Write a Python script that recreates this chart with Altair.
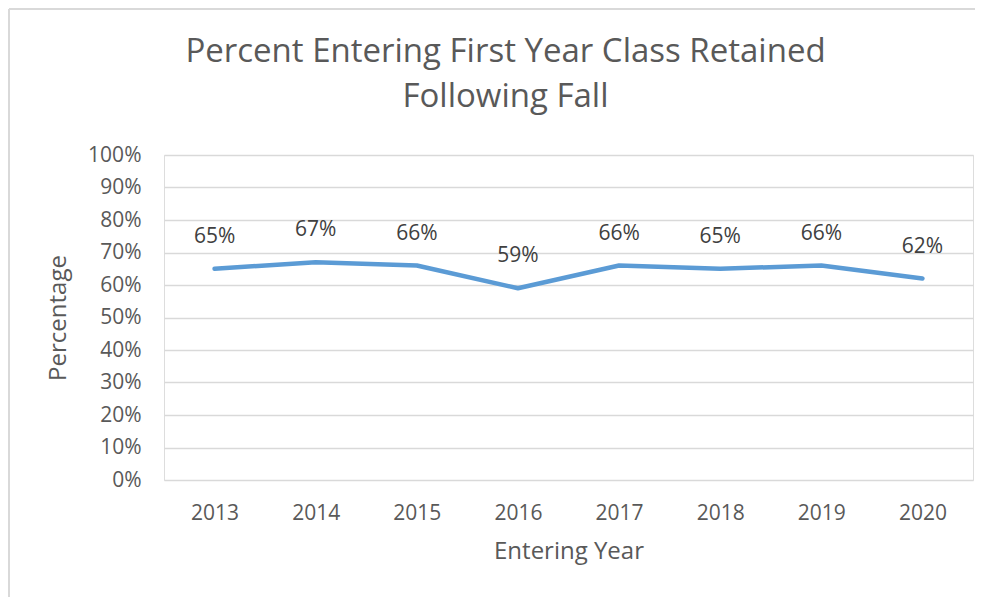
import altair as alt
import pandas as pd

years = ["2013", "2014", "2015", "2016", "2017", "2018", "2019", "2020"]
retained = [0.65, 0.67, 0.66, 0.59, 0.66, 0.65, 0.66, 0.62]
y_ticks = [0.0, 0.1, 0.2, 0.3, 0.4, 0.5, 0.6, 0.7, 0.8, 0.9, 1.0]
title_lines = ["Percent Entering First Year Class Retained", "Following Fall"]

df = pd.DataFrame({"year": years, "value": retained})

FONT = "Open Sans"
GRID = "#D9D9D9"
TXT = "#595959"

x_enc = alt.X(
    "year:O",
    sort=years,
    scale=alt.Scale(paddingInner=0, paddingOuter=0),
    axis=alt.Axis(
        title="Entering Year",
        labelAngle=0,
        labelFont=FONT,
        labelFontSize=21,
        labelColor=TXT,
        labelPadding=22,
        ticks=False,
        domain=False,
        grid=False,
        titleFont=FONT,
        titleFontSize=24,
        titleFontWeight="normal",
        titleColor=TXT,
        titlePadding=16,
    ),
)
y_enc = alt.Y(
    "value:Q",
    scale=alt.Scale(domain=[0, 1], nice=False),
    axis=alt.Axis(
        title="Percentage",
        values=y_ticks,
        format=".0%",
        labelOverlap=False,
        labelFont=FONT,
        labelFontSize=21,
        labelColor=TXT,
        labelPadding=23,
        ticks=False,
        domain=False,
        gridColor=GRID,
        gridWidth=1.5,
        titleFont=FONT,
        titleFontSize=24,
        titleFontWeight="normal",
        titleColor=TXT,
        titlePadding=17,
    ),
)

base = alt.Chart(df)
line = base.mark_line(color="#5B9BD5", strokeWidth=4.5, strokeCap="round", strokeJoin="round").encode(
    x=x_enc, y=y_enc
)
labels = base.mark_text(dy=-32, baseline="middle", font=FONT, fontSize=21, color="#404040").encode(
    x=x_enc, y=y_enc, text=alt.Text("value:Q", format=".0%")
)
frame = alt.Data(values=[{}])
border_top = alt.Chart(frame).mark_rule(stroke=GRID, strokeWidth=2).encode(
    x=alt.value(-155), x2=alt.value(820), y=alt.value(-146)
)
border_left = alt.Chart(frame).mark_rule(stroke=GRID, strokeWidth=2).encode(
    x=alt.value(-155), y=alt.value(-146), y2=alt.value(460)
)

chart = alt.layer(border_top, border_left, line, labels).properties(
    width=809,
    height=325,
    title=alt.Title(
        text=title_lines,
        font=FONT,
        fontSize=33,
        fontWeight="normal",
        color=TXT,
        anchor="middle",
        dx=-63,
        dy=126,
        lineHeight=45,
        offset=20,
    ),
    autosize=alt.AutoSizeParams(type="none"),
    padding={"left": 156, "top": 147, "right": 2, "bottom": 117},
).configure_view(strokeWidth=0).configure(background="white")

chart.save("out.html", embed_options={"renderer": "svg", "actions": False})
